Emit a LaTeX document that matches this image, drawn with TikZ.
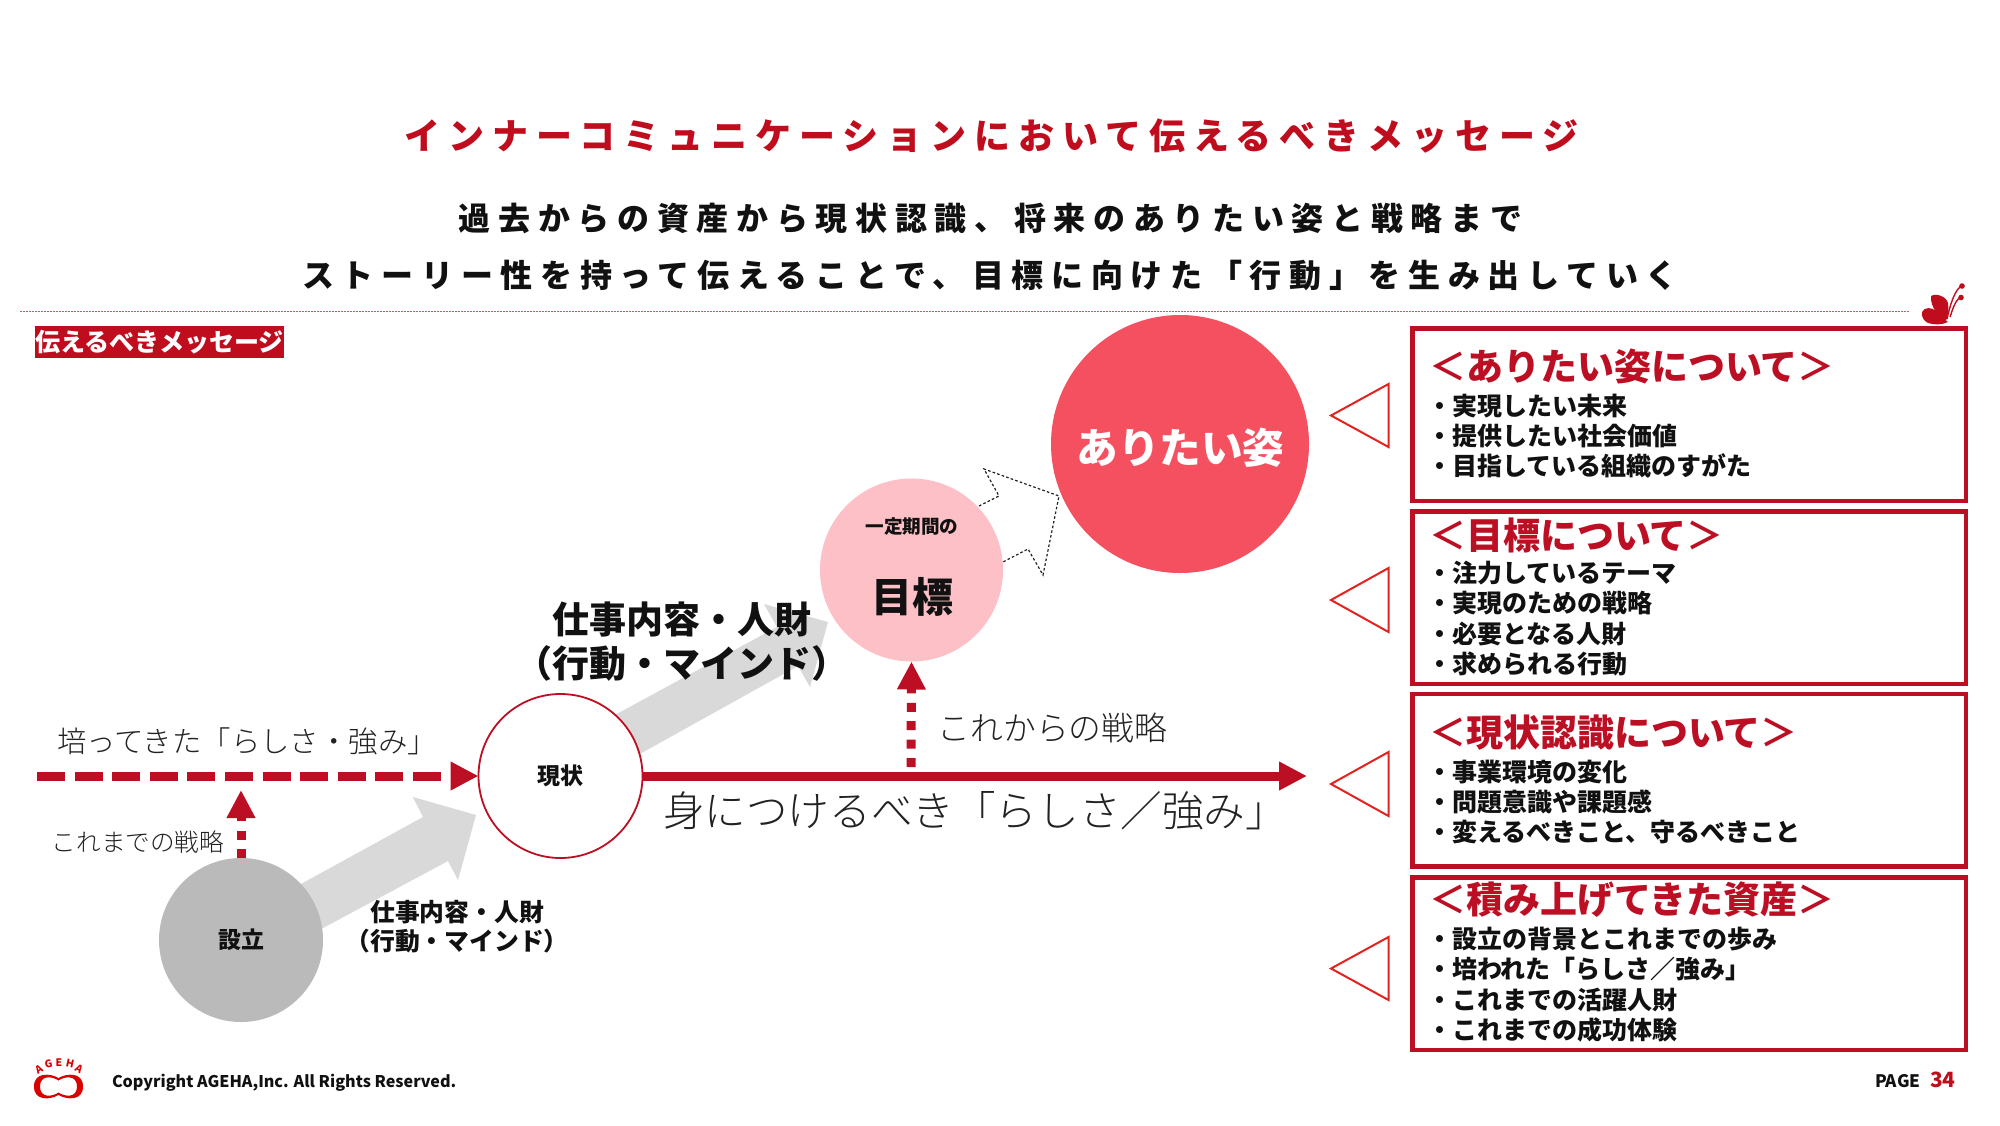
\documentclass[tikz,border=0pt]{standalone}
\usepackage{fontspec}
\setmainfont{Noto Sans CJK JP}
\newfontfamily\lightfont{Noto Sans CJK JP Light}
\usetikzlibrary{arrows.meta,backgrounds,shapes.geometric}
\definecolor{brandred}{HTML}{BC0F24}
\definecolor{titlered}{HTML}{C00D1E}
\definecolor{triared}{HTML}{E2231F}
\definecolor{coralc}{HTML}{F4505F}
\definecolor{pinkc}{HTML}{FCC0C6}
\definecolor{grayc}{HTML}{BABABA}
\definecolor{grayarrow}{HTML}{D9D9D9}
\definecolor{inkc}{HTML}{111111}
\definecolor{softink}{HTML}{222222}
\newcommand\fz[1]{\fontsize{#1}{#1}\selectfont}
\newcommand\spaced[1]{\addfontfeature{LetterSpace=#1}}
\tikzset{
  x=0.5pt,y=-0.5pt,
  txt/.style={inner sep=0pt,outer sep=0pt,text=inkc,font=\bfseries},
  lighttxt/.style={inner sep=0pt,outer sep=0pt,text=softink},
  disc/.style={circle,inner sep=0pt,outer sep=0pt},
  infobox/.style={draw=brandred,line width=2.25pt,fill=white,minimum width=276.75pt,minimum height=86.25pt,inner sep=0pt},
  headtxt/.style={txt,anchor=west,text=brandred},
  bullet/.style={txt,anchor=west,font=\bfseries\fz{12.5}},
  pointer/.style={draw=triared,line width=1pt,line join=miter},
  gblock/.style={fill=grayarrow},
  redline/.style={draw=brandred,line width=4.5pt},
  bighead/.style={-{Triangle[length=14pt,width=13.5pt]}},
}
\newcommand\hd[1]{{\lightfont\fz{18.5}＜}\textbf{#1}{\lightfont\fz{18.5}＞}}
\begin{document}
\begin{tikzpicture}
\useasboundingbox (0,0) rectangle (2000,1125);
\begin{scope}[on background layer]
\fill[white] (0,0) rectangle (2000,1125);
\end{scope}

% title
\node[txt,text=titlered] (title) at (991.5,136) {\fz{18}\spaced{22}インナーコミュニケーションにおいて伝えるべきメッセージ};
\node[txt] (subA) at (990.5,218) {\fz{16}\spaced{24}過去からの資産から現状認識、将来のありたい姿と戦略まで};
\node[txt] (subB) at (990,275) {\fz{16}\spaced{24}ストーリー性を持って伝えることで、目標に向けた「行動」を生み出していく};

% rule
\coordinate (ruleL) at (20,311);
\coordinate (ruleR) at (1909,311);
\draw[brandred!70,line width=0.5pt,dash pattern=on 1pt off 0.5pt] (ruleL) -- (ruleR);

% butterfly
\fill[titlered] (1931,296) .. controls (1936,293) and (1946,296) .. (1948,303) .. controls (1949,309) and (1948,315) .. (1946,321) .. controls (1940,318) and (1930,308) .. (1931,296) -- cycle;
\fill[titlered] (1922,312) .. controls (1924,307) and (1932,307) .. (1936,311) .. controls (1940,315) and (1944,320) .. (1948,322) .. controls (1942,325) and (1934,325) .. (1928,323) .. controls (1924,321) and (1921,317) .. (1922,312) -- cycle;
\draw[titlered,line width=0.7pt] (1947,319) .. controls (1950,305) and (1955,288) .. (1963,285);
\draw[titlered,line width=0.7pt] (1950,317) .. controls (1953,308) and (1956,298) .. (1962,297);
\fill[titlered] (1962,286) circle[radius=1.4pt];
\fill[titlered] (1961,297.5) circle[radius=1.4pt];

% tag
\node[fill=titlered,text=white,font=\bfseries\fz{12.5},inner sep=0pt,minimum width=124.5pt,minimum height=16pt] (tag) at (159.5,342) {伝えるべきメッセージ};

% circles
\node[disc,fill=coralc,minimum size=129pt] (vision) at (1180,444) {};
\node[txt,text=white,font=\bfseries\fz{20.8}] (visionT) at (1180.5,448) {ありたい姿};
\node[disc,fill=pinkc,minimum size=91.5pt] (goal) at (911.5,570) {};
\node[txt,font=\bfseries\fz{9.3}] (goalA) at (912,527) {一定期間の};
\node[txt,font=\bfseries\fz{20.5}] (goalB) at (912,597) {目標};
\node[disc,draw=brandred,line width=0.9pt,fill=white,minimum size=82pt] (now) at (560.5,776) {};
\node[txt,font=\bfseries\fz{11.5}] (nowT) at (560.5,776) {現状};
\node[disc,fill=grayc,minimum size=82pt] (found) at (241,940) {};
\node[txt,font=\bfseries\fz{11.5}] (foundT) at (241,940) {設立};

% grey block arrows behind the circles
\begin{scope}[on background layer]
\fill[gblock] (290,890) -- (423,817) -- (413,797) -- (476,815) -- (458,880) -- (448,861) -- (310,935) -- cycle;
\fill[gblock] (600,723) -- (777,627) -- (764,604) -- (828,622) -- (810,687) -- (798,666) -- (620,765) -- cycle;
\end{scope}

% dotted arrow
\draw[softink,line width=0.6pt,dash pattern=on 1.3pt off 1.1pt] (979,506) -- (999,496) -- (984,469) -- (1059,496) -- (1043,575) -- (1028,549) -- (1003,562);

% red connectors
\coordinate (pastL) at (37,776);
\coordinate (strategyB) at (911,767);
\coordinate (lineEnd) at (1307,776);
\draw[redline,bighead,dash pattern=on 14pt off 4.8pt] (pastL) -- (now.west);
\draw[redline,bighead] (now.east) -- (lineEnd);
\draw[redline,bighead,dash pattern=on 4.5pt off 4.7pt] (found.north) -- ++(0,-68);
\draw[redline,bighead,dash pattern=on 4.5pt off 4.7pt] (strategyB) -- (goal.south);

% left labels
\node[lighttxt,font=\lightfont\fz{14.7}] (pastT) at (247,741) {培ってきた「らしさ・強み」};
\node[lighttxt,font=\lightfont\fz{12.3}] (beforeT) at (138,842) {これまでの戦略};
\node[lighttxt,font=\lightfont\fz{16.4}] (afterT) at (1052.5,728) {これからの戦略};
\node[lighttxt,font=\lightfont\fz{20.8}] (learnT) at (975,811) {身につけるべき「らしさ／強み」};
\node[txt,font=\bfseries\fz{18.5}] (bigA) at (682,619) {仕事内容・人財};
\node[txt,font=\bfseries\fz{18.5}] (bigB) at (682,663) {（行動・マインド）};
\node[txt,font=\bfseries\fz{12.4}] (smallA) at (457,912) {仕事内容・人財};
\node[txt,font=\bfseries\fz{12.4}] (smallB) at (457,941) {（行動・マインド）};

% right boxes
\node[infobox] (boxA) at (1689,414.5) {};
\node[infobox] (boxB) at (1689,597.5) {};
\node[infobox] (boxC) at (1689,780) {};
\node[infobox] (boxD) at (1689,963.5) {};
\draw[pointer] (1388.5,384) -- (1331,415.5) -- (1388.5,447) -- cycle;
\draw[pointer] (1388.5,568) -- (1331,600) -- (1388.5,632) -- cycle;
\draw[pointer] (1388.5,752) -- (1331,784) -- (1388.5,816) -- cycle;
\draw[pointer] (1388.5,937) -- (1331,968.5) -- (1388.5,1000) -- cycle;

\node[headtxt] (hA) at (1429,366) {\fz{18.5}\hd{ありたい姿について}};
\node[bullet] (a1) at (1427,406) {・実現したい未来};
\node[bullet] (a2) at (1427,436) {・提供したい社会価値};
\node[bullet] (a3) at (1427,466) {・目指している組織のすがた};

\node[headtxt] (hB) at (1429,535) {\fz{18.5}\hd{目標について}};
\node[bullet] (b1) at (1427,573) {・注力しているテーマ};
\node[bullet] (b2) at (1427,603) {・実現のための戦略};
\node[bullet] (b3) at (1427,634) {・必要となる人財};
\node[bullet] (b4) at (1427,664) {・求められる行動};

\node[headtxt] (hC) at (1429,733) {\fz{18.5}\hd{現状認識について}};
\node[bullet] (c1) at (1427,772) {・事業環境の変化};
\node[bullet] (c2) at (1427,802) {・問題意識や課題感};
\node[bullet] (c3) at (1427,832) {・変えるべきこと、守るべきこと};

\node[headtxt] (hD) at (1429,900) {\fz{18.5}\hd{積み上げてきた資産}};
\node[bullet] (d1) at (1427,939) {・設立の背景とこれまでの歩み};
\node[bullet] (d2) at (1427,969) {・培われた「らしさ／強み」};
\node[bullet] (d3) at (1427,1000) {・これまでの活躍人財};
\node[bullet] (d4) at (1427,1030) {・これまでの成功体験};

% logo
\fill[red!85!black,even odd rule] (58.5,1078) .. controls (50,1073) and (34,1072) .. (34,1086.5) .. controls (34,1101) and (50,1100) .. (58.5,1095) .. controls (67,1100) and (83,1101) .. (83,1086.5) .. controls (83,1072) and (67,1073) .. (58.5,1078) -- cycle
 (58.5,1080.5) .. controls (52,1076) and (40,1075) .. (40,1086.5) .. controls (40,1098) and (52,1097) .. (58.5,1092.5) .. controls (65,1097) and (77,1098) .. (77,1086.5) .. controls (77,1075) and (65,1076) .. (58.5,1080.5) -- cycle;
\node[txt,text=red!85!black,font=\bfseries\fz{5.2},rotate=30] (lgA) at (39,1069) {A};
\node[txt,text=red!85!black,font=\bfseries\fz{5.2},rotate=12] (lgB) at (48.5,1064) {G};
\node[txt,text=red!85!black,font=\bfseries\fz{5.2}] (lgC) at (59,1062.5) {E};
\node[txt,text=red!85!black,font=\bfseries\fz{5.2},rotate=-12] (lgD) at (70,1063.5) {H};
\node[txt,text=red!85!black,font=\bfseries\fz{5.2},rotate=-30] (lgE) at (79,1069) {A};

% footer
\node[txt,anchor=west,font=\bfseries\fz{8.05}] (copy) at (112,1083) {Copyright AGEHA,Inc. All Rights Reserved.};
\node[txt,anchor=west,font=\bfseries\fz{8.6}] (pageL) at (1875,1081) {PAGE};
\node[txt,anchor=west,text=titlered,font=\bfseries\fz{10.5}] (pageN) at (1930,1080) {34};
\end{tikzpicture}
\end{document}
